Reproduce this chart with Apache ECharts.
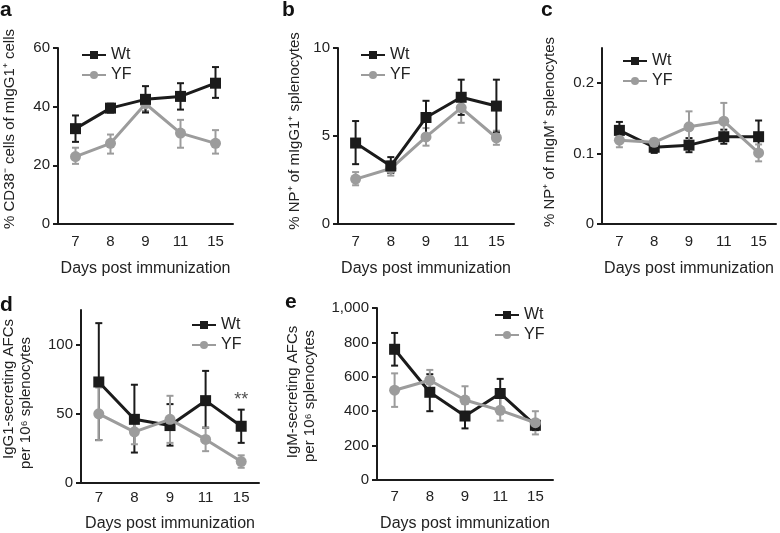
<!DOCTYPE html>
<html><head><meta charset="utf-8">
<script src="https://cdn.jsdelivr.net/npm/echarts@6/dist/echarts.min.js"></script>
<style>html,body{margin:0;padding:0;background:#fff}#c{width:780px;height:533px}</style>
</head><body><div id="c"></div>
<script>
const days = ['7', '8', '9', '11', '15'];
const seriesNames = ['Wt', 'YF'];
// panel a: % CD38- cells of mIgG1+ cells
const aWt = [32.5, 39.5, 42.5, 43.5, 48];
const aWtLo = [28, 38, 38, 39, 43];
const aWtHi = [37, 41, 47, 48, 53.5];
const aYF = [23, 27.5, 41, 31, 27.5];
const aYFLo = [20.5, 24, 38.5, 26, 24];
const aYFHi = [26, 30.5, 43.5, 35.5, 32];
// panel b: % NP+ of mIgG1+ splenocytes
const bWt = [4.6, 3.3, 6.05, 7.2, 6.7];
const bWtLo = [3.4, 2.9, 5.1, 6.2, 5.2];
const bWtHi = [5.85, 3.8, 7.0, 8.2, 8.2];
const bYF = [2.55, 3.15, 4.95, 6.6, 4.9];
const bYFLo = [2.2, 2.75, 4.45, 5.75, 4.5];
const bYFHi = [2.95, 3.55, 5.45, 7.3, 5.3];
// panel c: % NP+ of mIgM+ splenocytes
const cWt = [0.133, 0.109, 0.112, 0.124, 0.124];
const cWtLo = [0.122, 0.101, 0.102, 0.114, 0.105];
const cWtHi = [0.145, 0.117, 0.122, 0.134, 0.147];
const cYF = [0.119, 0.116, 0.138, 0.146, 0.101];
const cYFLo = [0.109, 0.111, 0.118, 0.12, 0.089];
const cYFHi = [0.129, 0.121, 0.16, 0.172, 0.113];
// panel d: IgG1-secreting AFCs per 10^6 splenocytes
const dWt = [73, 46, 41.5, 59.5, 41];
const dWtLo = [31, 22, 27, 40, 29];
const dWtHi = [115.5, 71, 57, 81, 53];
const dYF = [50, 37, 46, 31.5, 15.5];
const dYFLo = [31, 28, 29, 23, 11];
const dYFHi = [69, 47, 63, 40, 20];
const dSigLabel = ['', '', '', '', '**'];
const dSigY = [null, null, null, null, 60];
// panel e: IgM-secreting AFCs per 10^6 splenocytes
const eWt = [760, 510, 372, 503, 318];
const eWtLo = [665, 400, 300, 420, 290];
const eWtHi = [855, 615, 445, 588, 345];
const eYF = [522, 580, 465, 405, 333];
const eYFLo = [425, 530, 388, 345, 265];
const eYFHi = [620, 640, 545, 478, 400];

const BLACK = '#1b1b1b', GREY = '#9c9c9c', TXT = '#222';
const FONT = '"Liberation Sans", Arial, Helvetica, sans-serif';

const panels = [
  {grid: {left: 58, top: 48, width: 175, height: 176}, max: 60, interval: 20, ticks: [0, 20, 40, 60],
   wt: [aWt, aWtLo, aWtHi], yf: [aYF, aYFLo, aYFHi], wtTop: true, legend: {left: 76, top: 42}, nameGap: 37, lm: 10},
  {grid: {left: 338, top: 48, width: 176, height: 176}, max: 10, interval: 5, ticks: [0, 5, 10],
   wt: [bWt, bWtLo, bWtHi], yf: [bYF, bYFLo, bYFHi], wtTop: true, legend: {left: 355, top: 42}, nameGap: 37, lm: 10},
  {grid: {left: 602, top: 48, width: 174, height: 176}, max: 0.25, interval: 0.1, ticks: [0, 0.1, 0.2],
   wt: [cWt, cWtLo, cWtHi], yf: [cYF, cYFLo, cYFHi], wtTop: false, legend: {left: 617, top: 48}, nameGap: 37, lm: 10},
  {grid: {left: 81, top: 310, width: 178, height: 178}, max: 125, interval: 50, ticks: [0, 50, 100],
   wt: [dWt, dWtLo, dWtHi], yf: [dYF, dYFLo, dYFHi], wtTop: false, legend: {left: 186, top: 312}, nameGap: 33, lm: 7},
  {grid: {left: 377, top: 308, width: 176, height: 176}, max: 1000, interval: 200, ticks: [0, 200, 400, 600, 800, 1000],
   wt: [eWt, eWtLo, eWtHi], yf: [eYF, eYFLo, eYFHi], wtTop: false, legend: {left: 489, top: 302}, nameGap: 36, lm: 9}
];

function errRender(params, api) {
  const x = api.value(0), lo = api.value(1), hi = api.value(2);
  const pLo = api.coord([x, lo]), pHi = api.coord([x, hi]);
  const w = 3.5;
  const style = {stroke: api.visual('color'), lineWidth: 2};
  return {type: 'group', children: [
    {type: 'line', shape: {x1: pLo[0], y1: pLo[1], x2: pHi[0], y2: pHi[1]}, style: style},
    {type: 'line', shape: {x1: pLo[0] - w, y1: pLo[1], x2: pLo[0] + w, y2: pLo[1]}, style: style},
    {type: 'line', shape: {x1: pHi[0] - w, y1: pHi[1], x2: pHi[0] + w, y2: pHi[1]}, style: style}
  ]};
}

const grid = [], xAxis = [], yAxis = [], series = [], legend = [];
panels.forEach((p, i) => {
  grid.push(p.grid);
  xAxis.push({
    type: 'category', gridIndex: i, data: days, boundaryGap: true,
    axisLine: {lineStyle: {color: BLACK, width: 2}},
    axisTick: {alignWithLabel: true, length: 5, lineStyle: {color: BLACK, width: 2}},
    axisLabel: {color: TXT, fontSize: 15, fontFamily: FONT, margin: p.lm},
    name: 'Days post immunization', nameLocation: 'middle', nameGap: p.nameGap,
    nameTextStyle: {color: TXT, fontSize: 16, fontFamily: FONT}
  });
  yAxis.push({
    type: 'value', gridIndex: i, min: 0, max: p.max, interval: p.interval,
    splitLine: {show: false},
    axisLine: {show: true, lineStyle: {color: BLACK, width: 2}},
    axisTick: {show: true, length: 5, lineStyle: {color: BLACK, width: 2}, customValues: p.ticks},
    axisLabel: {color: TXT, fontSize: 15, fontFamily: FONT, margin: 8, customValues: p.ticks,
      formatter: v => i === 4 ? v.toLocaleString('en-US') : String(v)}
  });
  const mk = (name, arr, color, symbol, size) => [
    {name: 'err' + name, type: 'custom', xAxisIndex: i, yAxisIndex: i, renderItem: errRender,
     itemStyle: {color: color}, encode: {x: 0, y: [1, 2]}, z: 2, silent: true,
     data: days.map((d, k) => [k, arr[1][k], arr[2][k]])},
    {name: name, type: 'line', xAxisIndex: i, yAxisIndex: i, data: arr[0],
     symbol: symbol, symbolSize: size, showSymbol: true,
     lineStyle: {color: color, width: 3}, itemStyle: {color: color}, z: 3}
  ];
  const wtS = mk('Wt', p.wt, BLACK, 'rect', 11);
  const yfS = mk('YF', p.yf, GREY, 'circle', 11);
  if (p.wtTop) { wtS[1].z = 4; series.push(...yfS, ...wtS); }
  else { yfS[1].z = 4; series.push(...wtS, ...yfS); }
  legend.push({
    orient: 'vertical', left: p.legend.left, top: p.legend.top,
    data: seriesNames, itemWidth: 24, itemHeight: 10, itemGap: 4,
    textStyle: {color: TXT, fontSize: 16, fontFamily: FONT}, selectedMode: false
  });
});
// significance annotation in panel d
series.push({
  name: 'sig', type: 'scatter', xAxisIndex: 3, yAxisIndex: 3, symbolSize: 0, silent: true,
  data: dSigY,
  label: {show: true, position: 'inside', color: TXT, fontSize: 18, fontFamily: FONT,
    formatter: q => dSigLabel[q.dataIndex]}
});

const letter = (t, x, y) => ({type: 'text', x: x, y: y,
  style: {text: t, font: 'bold 21px ' + FONT, fill: '#111', textVerticalAlign: 'bottom'}});
const ytitle = (t, x, y) => ({type: 'text', x: x, y: y, rotation: Math.PI / 2,
  style: {text: t, font: '15px ' + FONT, fill: TXT, textAlign: 'center', textVerticalAlign: 'middle'}});

const graphic = [
  letter('a', 0, 21), letter('b', 282, 21), letter('c', 541, 21), letter('d', 0, 316), letter('e', 285, 313),
  ytitle('% CD38\u207B cells of mIgG1\u207A cells', 10, 129),
  ytitle('% NP\u207A of mIgG1\u207A splenocytes', 295, 131),
  ytitle('% NP\u207A of mIgM\u207A splenocytes', 550, 132),
  ytitle('IgG1-secreting AFCs', 9, 389),
  ytitle('per 10\u2076 splenocytes', 26, 403),
  ytitle('IgM-secreting AFCs', 293, 392),
  ytitle('per 10\u2076 splenocytes', 310, 396)
];

const chart = echarts.init(document.getElementById('c'), null, {renderer: 'canvas'});
chart.setOption({animation: false, backgroundColor: '#fff', grid, xAxis, yAxis, series, legend, graphic});
</script>
</body></html>
